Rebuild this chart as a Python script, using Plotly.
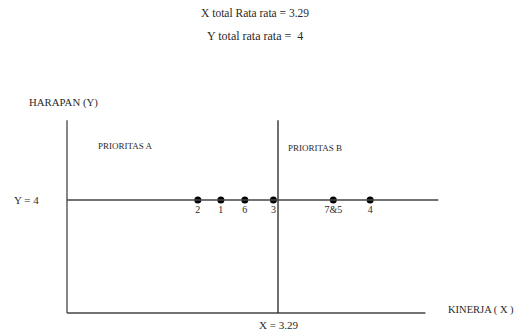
import plotly.graph_objects as go

# data (Kinerja X scale, Harapan Y scale)
labels = ["2", "1", "6", "3", "7&5", "4"]
kinerja = [2.42, 2.67, 2.93, 3.24, 3.89, 4.29]
harapan = [4, 4, 4, 4, 4, 4]
x_mean = 3.29
y_mean = 4
x_min, x_max_axis, x_max_line = 1.0, 4.89, 5.03
y_min, y_max = 1.0, 6.12

FONT = "Liberation Serif"
COL = "#2a2a2a"
LINE = "#444444"

OFF = 8  # page body margin
W, H = 530 - OFF, 336 - OFF

fig = go.Figure()
fig.add_trace(go.Scatter(
    x=kinerja, y=harapan, mode="markers+text",
    marker=dict(size=7, color="#000000"),
    text=labels, textposition="bottom center",
    textfont=dict(family=FONT, size=10, color=COL),
    hoverinfo="skip", showlegend=False, cliponaxis=False,
))

shapes = [
    dict(type="line", x0=x_min, x1=x_min, y0=y_min, y1=y_max, line=dict(color=LINE, width=1.3)),
    dict(type="line", x0=x_min, x1=x_max_axis, y0=y_min, y1=y_min, line=dict(color=LINE, width=1.3)),
    dict(type="line", x0=x_mean, x1=x_mean, y0=y_min, y1=y_max, line=dict(color="#222222", width=1.3)),
    dict(type="line", x0=x_min, x1=x_max_line, y0=y_mean, y1=y_mean, line=dict(color=LINE, width=1.3)),
]

ann = []
def A(text, px, py, size=9, xanchor="left", xref="paper", xval=None):
    ann.append(dict(text=text, x=(xval if xval is not None else (px - OFF) / W), y=1 - (py - OFF) / H,
                    xref=xref, yref="paper", showarrow=False,
                    xanchor=xanchor, yanchor="middle",
                    font=dict(family=FONT, size=size, color=COL)))

A(f"X total Rata rata = {x_mean}", 255, 13, size=11.5, xanchor="center")
A(f"Y total rata rata =  {y_mean}", 255, 36, size=12, xanchor="center")
A("HARAPAN (Y)", 27, 103, size=10.8)
A("PRIORITAS A", 96, 146, size=9)
A("PRIORITAS B", 286, 148, size=9)
A(f"Y = {y_mean}", 12, 200, size=11)
A(f"X = {x_mean}", 0, 325, size=11, xanchor="center", xref="x", xval=x_mean)
A("KINERJA ( X )", 446, 310, size=10.5)

# axis ranges so that x=1 -> px 67, 3.29 -> px 278 ; y=1 -> px 313, 4 -> px 200 (window pixels)
kx = (278 - 67) / (x_mean - x_min)
ky = (313 - 200) / (y_mean - y_min)
lx = 67 - OFF
ty = 313 - OFF
fig.update_layout(
    width=W, height=H, margin=dict(l=0, r=0, t=0, b=0),
    paper_bgcolor="white", plot_bgcolor="white",
    xaxis=dict(range=[x_min - lx / kx, x_min + (W - lx) / kx], visible=False, fixedrange=True),
    yaxis=dict(range=[y_min - (H - ty) / ky, y_min + ty / ky], visible=False, fixedrange=True),
    shapes=shapes, annotations=ann,
)
fig.write_html("out.html")
